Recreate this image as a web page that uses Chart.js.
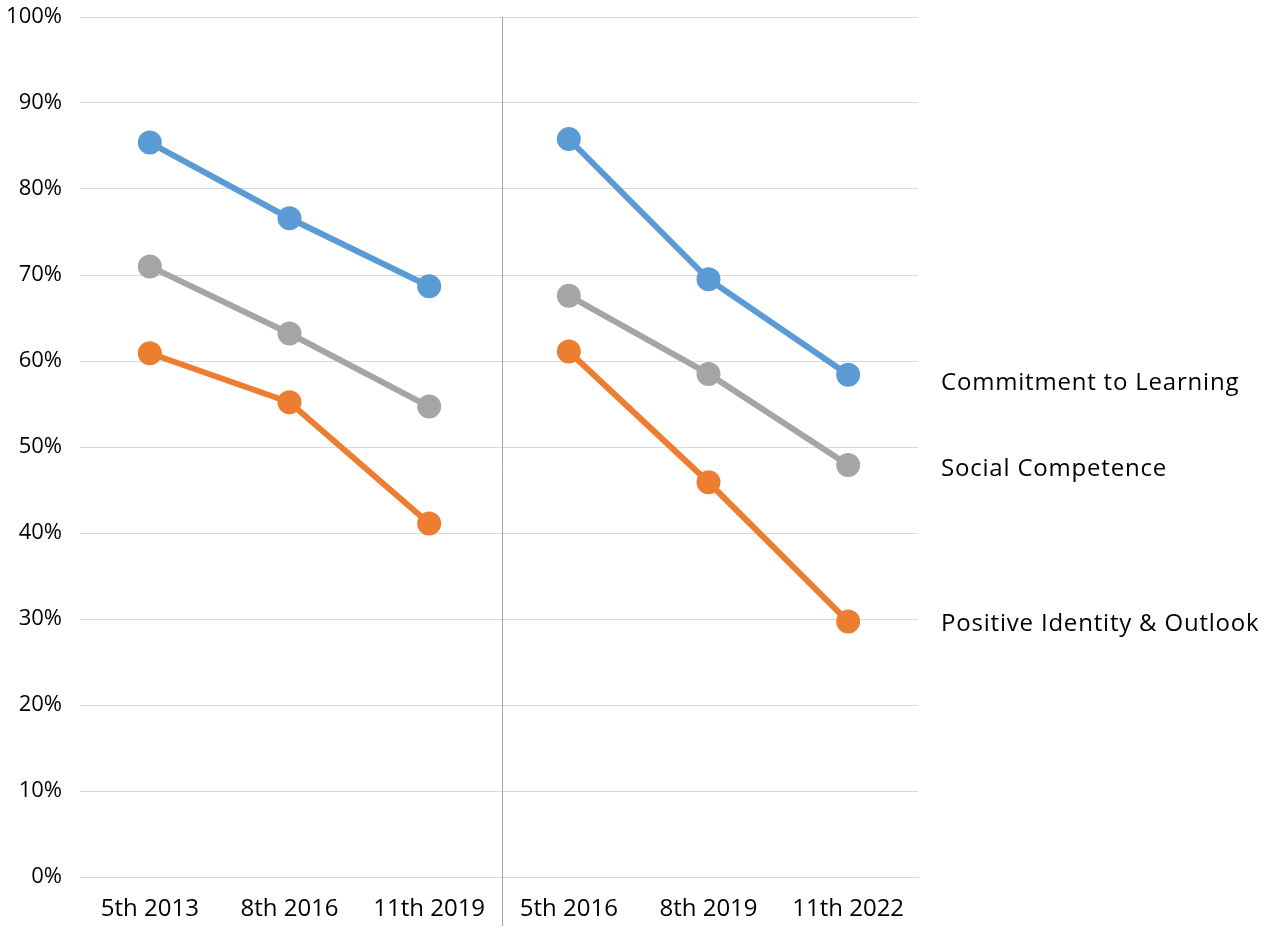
<!DOCTYPE html>
<html>
<head>
<meta charset="utf-8">
<script src="https://cdn.jsdelivr.net/npm/chart.js@4/dist/chart.umd.min.js"></script>
<style>
  html, body { margin: 0; padding: 0; background: #fff; }
  #wrap { width: 1276px; height: 928px; }
</style>
</head>
<body>
<div id="wrap"><canvas id="chart"></canvas></div>
<script>
// grade / year for each cohort (two cohorts, three points each)
const categories = ['5th 2013', '8th 2016', '11th 2019', '5th 2016', '8th 2019', '11th 2022']
const yTicks = [0, 10, 20, 30, 40, 50, 60, 70, 80, 90, 100]

const commitment = [85.4, 76.6, 68.7, 85.8, 69.5, 58.4]
const social = [71.0, 63.2, 54.7, 67.6, 58.5, 47.9]
const identity = [60.9, 55.2, 41.1, 61.1, 45.9, 29.7]

const seriesNames = ['Commitment to Learning', 'Social Competence', 'Positive Identity & Outlook']
// where the series name sits on the right (value on the y scale)
const labelValues = [57.4, 47.4, 29.4]

const FONT = '"Open Sans", sans-serif'
const colors = ['#5b9bd5', '#a5a5a5', '#ed7d31']

// no line between the two cohorts
const gapSegment = {
  borderColor: ctx => ctx.p0DataIndex === 2 ? 'rgba(0,0,0,0)' : undefined
}

const makeDataset = (label, data, color) => ({
  label,
  data,
  borderColor: color,
  backgroundColor: color,
  pointBackgroundColor: color,
  pointBorderColor: color,
  borderWidth: 6,
  pointRadius: 9,
  pointHoverRadius: 9,
  tension: 0,
  segment: gapSegment,
})

// separator between cohorts + series names on the right
const extras = {
  id: 'extras',
  afterDraw(chart) {
    const { ctx, scales: { x, y }, chartArea } = chart
    const sepX = Math.round((x.getPixelForValue(2) + x.getPixelForValue(3)) / 2) + 3.5
    ctx.save()
    ctx.strokeStyle = '#a6a6a6'
    ctx.lineWidth = 1
    ctx.beginPath()
    ctx.moveTo(sepX, chartArea.top)
    ctx.lineTo(sepX, chart.height - 2)
    ctx.stroke()

    ctx.fillStyle = '#000'
    ctx.font = `24px ${FONT}`
    ctx.letterSpacing = '0.8px'
    ctx.textBaseline = 'middle'
    ctx.textAlign = 'left'
    seriesNames.forEach((name, i) => {
      ctx.fillText(name, chartArea.right + 23, y.getPixelForValue(labelValues[i]))
    })
    ctx.restore()
  }
}

new Chart(document.getElementById('chart'), {
  type: 'line',
  data: {
    labels: categories,
    datasets: [
      makeDataset(seriesNames[0], commitment, colors[0]),
      makeDataset(seriesNames[1], social, colors[1]),
      makeDataset(seriesNames[2], identity, colors[2]),
    ],
  },
  options: {
    responsive: true,
    maintainAspectRatio: false,
    animation: false,
    layout: { padding: { top: 17, right: 358, left: 0, bottom: 0 } },
    plugins: {
      legend: { display: false },
      tooltip: { enabled: false },
    },
    scales: {
      x: {
        offset: true,
        grid: { display: false, drawTicks: false },
        border: { display: true, color: '#d9d9d9', width: 1 },
        ticks: {
          color: '#000',
          font: { family: FONT, size: 24 },
          padding: 18,
          maxRotation: 0,
          autoSkip: false,
        },
        afterFit: scale => { scale.height = 51 },
      },
      y: {
        min: 0,
        max: 100,
        afterBuildTicks: scale => { scale.ticks = yTicks.map(v => ({ value: v })) },
        grid: { color: '#d9d9d9', lineWidth: 1, drawTicks: false },
        border: { display: false },
        ticks: {
          color: '#000',
          font: { family: FONT, size: 22 },
          padding: 18,
          callback: v => v + '%',
        },
        afterFit: scale => {
          scale.width = 80
          scale.paddingTop = 0
          scale.paddingBottom = 0
        },
      },
    },
  },
  plugins: [extras],
})
</script>
</body>
</html>
